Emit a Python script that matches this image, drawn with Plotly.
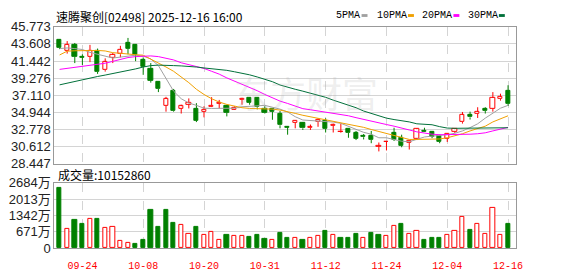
import plotly.graph_objects as go

# ---------------- data ----------------
dates = ["09-19", "09-22", "09-23", "09-24", "09-25", "09-26", "09-29", "09-30", "10-02", "10-03",
         "10-06", "10-08", "10-09", "10-10", "10-13", "10-14", "10-15", "10-16", "10-17", "10-20",
         "10-21", "10-22", "10-23", "10-24", "10-27", "10-28", "10-30", "10-31", "11-03", "11-04",
         "11-05", "11-06", "11-07", "11-10", "11-11", "11-12", "11-13", "11-14", "11-17", "11-18",
         "11-19", "11-20", "11-21", "11-24", "11-25", "11-26", "11-27", "11-28", "12-01", "12-02",
         "12-03", "12-04", "12-05", "12-08", "12-09", "12-10", "12-11", "12-12", "12-15", "12-16"]

opens = [44.09, 42.69, 43.49, 41.97, 41.97, 42.78, 40.29, 41.90, 42.30, 43.70,
         43.49, 41.58, 40.50, 38.78, 35.79, 37.70, 35.43, 35.94, 35.43, 35.02,
         35.66, 36.03, 35.79, 35.31, 36.51, 36.78, 36.78, 35.43, 35.43, 34.78,
         33.06, 33.63, 33.58, 32.94, 33.70, 33.90, 33.22, 32.40, 32.79, 32.31,
         31.90, 31.98, 30.58, 31.19, 32.31, 31.71, 31.11, 31.59, 32.62, 32.50,
         31.90, 31.59, 32.50, 33.70, 34.59, 34.78, 35.38, 35.43, 36.62, 37.70]
highs = [44.21, 43.97, 43.73, 42.30, 43.49, 43.02, 41.78, 42.45, 43.37, 44.37,
         43.58, 41.90, 41.18, 38.80, 36.90, 37.90, 35.90, 36.70, 36.10, 35.70,
         36.86, 36.51, 35.90, 35.70, 36.78, 36.80, 36.85, 35.70, 35.50, 35.10,
         33.08, 33.95, 33.70, 33.39, 34.18, 34.18, 33.51, 33.51, 32.85, 32.58,
         32.19, 32.58, 31.11, 31.25, 32.98, 32.10, 31.30, 32.91, 32.98, 32.55,
         32.10, 32.25, 32.90, 34.98, 35.02, 35.58, 35.58, 37.50, 37.30, 38.37]
lows = [42.95, 42.38, 41.18, 40.94, 41.30, 39.81, 40.10, 41.18, 41.90, 42.30,
        41.42, 39.69, 38.70, 37.50, 35.02, 35.02, 34.78, 35.43, 33.70, 34.30,
        35.60, 35.43, 34.42, 35.25, 35.90, 35.90, 35.31, 34.78, 33.99, 32.91,
        32.10, 32.91, 32.70, 32.70, 33.10, 32.38, 32.38, 32.31, 31.71, 31.42,
        31.50, 31.02, 29.98, 30.10, 31.30, 30.51, 30.22, 31.42, 32.45, 31.66,
        31.02, 31.18, 32.31, 33.51, 34.02, 34.22, 34.78, 35.02, 36.42, 35.74]
closes = [43.10, 43.49, 41.97, 41.90, 42.78, 40.05, 41.30, 42.21, 42.89, 43.02,
          42.21, 40.70, 38.97, 37.90, 36.62, 35.10, 35.70, 36.10, 33.90, 35.31,
          35.82, 36.18, 34.90, 35.55, 36.70, 36.18, 35.58, 34.90, 35.02, 33.30,
          33.03, 33.90, 32.91, 33.10, 34.02, 32.82, 33.39, 32.47, 32.31, 31.59,
          31.78, 31.42, 30.70, 31.23, 31.50, 30.70, 31.26, 32.79, 32.50, 31.83,
          31.18, 32.19, 32.79, 34.59, 34.30, 35.02, 35.10, 36.78, 36.90, 35.98]

ma5 = [43.02, 43.10, 43.02, 42.90, 42.54, 42.30, 42.00, 41.82, 41.94, 42.06,
       42.18, 42.06, 41.70, 40.86, 39.30, 37.62, 36.66, 36.12, 35.82, 35.46,
       35.43, 35.43, 35.43, 35.46, 35.64, 35.70, 35.76, 35.82, 35.58, 35.34,
       34.98, 34.38, 33.96, 33.90, 33.87, 33.78, 33.70, 33.54, 33.18, 32.76,
       32.40, 32.16, 31.71, 31.71, 31.50, 31.27, 31.21, 31.56, 31.81, 31.92,
       31.98, 32.10, 32.28, 32.58, 33.00, 33.48, 34.20, 34.86, 35.46, 35.82]
ma10 = [42.21, 42.69, 42.74, 42.78, 42.78, 42.78, 42.72, 42.50, 42.42, 42.30,
        42.24, 42.18, 41.70, 41.22, 40.68, 40.14, 39.42, 38.70, 37.86, 37.20,
        36.66, 36.24, 35.94, 35.70, 35.52, 35.43, 35.43, 35.40, 35.34, 35.22,
        35.04, 34.80, 34.56, 34.38, 34.20, 34.02, 33.84, 33.66, 33.48, 33.24,
        33.03, 32.76, 32.50, 32.28, 32.04, 31.74, 31.50, 31.50, 31.50, 31.50,
        31.56, 31.71, 31.92, 32.22, 32.58, 32.88, 33.18, 33.72, 34.14, 34.50]
ma20 = [40.38, 40.50, 40.62, 40.74, 40.86, 40.98, 41.16, 41.40, 41.64, 41.88,
        42.00, 42.06, 42.09, 42.00, 41.82, 41.58, 41.22, 40.98, 40.77, 40.50,
        40.14, 39.78, 39.30, 38.90, 38.52, 38.10, 37.68, 37.20, 36.78, 36.36,
        36.06, 35.70, 35.40, 35.26, 35.10, 34.98, 34.83, 34.68, 34.50, 34.26,
        34.02, 33.78, 33.60, 33.39, 33.18, 32.98, 32.70, 32.46, 32.28, 32.16,
        32.10, 32.10, 32.10, 32.10, 32.16, 32.22, 32.34, 32.58, 32.82, 33.03]
ma30 = [38.42, 38.64, 38.88, 39.09, 39.30, 39.48, 39.66, 39.84, 40.02, 40.20,
        40.44, 40.68, 40.86, 40.92, 40.92, 40.86, 40.82, 40.77, 40.68, 40.56,
        40.46, 40.38, 40.26, 40.08, 39.90, 39.69, 39.42, 39.12, 38.82, 38.40,
        38.10, 37.86, 37.62, 37.38, 37.14, 36.84, 36.48, 36.18, 35.88, 35.52,
        35.10, 34.80, 34.44, 34.20, 34.02, 33.90, 33.72, 33.48, 33.42, 33.36,
        33.12, 32.94, 32.91, 32.91, 32.91, 32.91, 32.91, 32.91, 32.94, 32.98]

# volume in 万 (10k shares)
volume = [2490, 805, 1167, 1011, 1206, 1206, 817, 856, 300, 222,
          156, 350, 1556, 856, 1556, 1050, 972, 583, 856, 545,
          650, 350, 545, 506, 506, 467, 545, 389, 338, 622,
          428, 428, 350, 428, 506, 700, 545, 428, 428, 583,
          428, 622, 545, 506, 934, 1011, 583, 700, 350, 428,
          428, 545, 700, 1284, 739, 1011, 583, 1673, 545, 1015]
first_volume_up = False
last_volume_text = "10152860"

price_ticks = [28.447, 30.612, 32.778, 34.944, 37.110, 39.276, 41.442, 43.608, 45.773]
price_tick_text = ["28.447", "30.612", "32.778", "34.944", "37.110", "39.276", "41.442", "43.608", "45.773"]
vol_ticks = [0, 671, 1342, 2013, 2684]
vol_tick_text = ["0", "671万", "1342万", "2013万", "2684万"]
date_tick_labels = ["09-24", "10-08", "10-20", "10-31", "11-12", "11-24", "12-04", "12-16"]

title_text = "速腾聚创[02498] 2025-12-16 16:00"
ma_names = ["5PMA", "10PMA", "20PMA", "30PMA"]

# ---------------- styles ----------------
RED = "#ff0000"
GREEN = "#008000"
MA_COLORS = ["#a0a0a0", "#f0a000", "#ff00ff", "#00703a"]
W, H = 578, 276
L, R = 55, 522
P_TOP, P_BOT = 21, 165.5
V_TOP, V_BOT = 186, 255


def px_x(p):
    return p / W


def px_y(p):
    return 1 - p / H


n = len(dates)
xs = list(range(n))
tick_pos = [dates.index(d) for d in date_tick_labels]

fig = go.Figure()

# wicks
for up, col in ((True, RED), (False, GREEN)):
    wx, wy = [], []
    for i in xs:
        is_up = closes[i] >= opens[i]
        if is_up != up:
            continue
        top = max(opens[i], closes[i])
        bot = min(opens[i], closes[i])
        wx += [i, i, None, i, i, None]
        wy += [highs[i], top, None, bot, lows[i], None]
    fig.add_trace(go.Scatter(x=wx, y=wy, mode="lines", line=dict(color=col, width=1),
                             hoverinfo="skip", xaxis="x", yaxis="y"))

# bodies
for up, col, fill in ((True, RED, "white"), (False, GREEN, GREEN)):
    bx, bb, bh = [], [], []
    for i in xs:
        is_up = closes[i] >= opens[i]
        if is_up != up:
            continue
        bx.append(i)
        bb.append(min(opens[i], closes[i]))
        bh.append(max(abs(closes[i] - opens[i]), 0.02))
    fig.add_trace(go.Bar(x=bx, y=bh, base=bb, width=0.56,
                         marker=dict(color=fill, line=dict(color=col, width=1)),
                         xaxis="x", yaxis="y"))

# moving averages
for vals, col in zip([ma5, ma10, ma20, ma30], MA_COLORS):
    fig.add_trace(go.Scatter(x=xs, y=vals, mode="lines", line=dict(color=col, width=1),
                             xaxis="x", yaxis="y"))

# volume
vol_up = [first_volume_up] + [closes[i] >= closes[i - 1] for i in range(1, n)]
for up, col, fill in ((True, RED, "white"), (False, GREEN, GREEN)):
    vx = [i for i in xs if vol_up[i] == up]
    vy = [volume[i] for i in vx]
    fig.add_trace(go.Bar(x=vx, y=vy, width=0.56,
                         marker=dict(color=fill, line=dict(color=col, width=1)),
                         xaxis="x2", yaxis="y2"))

xrange = [-0.69, 60.0]
xdom = [px_x(L), px_x(R)]
grid_col = "#d4d4d4"
border_col = "#999999"

common_x = dict(range=xrange, domain=xdom, tickmode="array", tickvals=tick_pos,
                showgrid=True, gridcolor=grid_col, griddash="dash", gridwidth=1,
                showline=True, mirror=True, linecolor=border_col, linewidth=1,
                zeroline=False, ticks="", fixedrange=True)

fig.update_layout(
    width=W, height=H, margin=dict(l=0, r=0, t=0, b=0),
    paper_bgcolor="white", plot_bgcolor="white",
    showlegend=False, barmode="overlay", bargap=0,
    xaxis=dict(**common_x, anchor="y", showticklabels=False),
    xaxis2=dict(**common_x, anchor="y2", matches="x", ticktext=date_tick_labels,
                showticklabels=True, ticklabelstandoff=8,
                tickfont=dict(family="Liberation Mono", size=10, color=RED)),
    yaxis=dict(domain=[px_y(P_BOT), px_y(P_TOP)], range=[price_ticks[0], price_ticks[-1]],
               tickmode="array", tickvals=price_ticks, ticktext=price_tick_text,
               showgrid=True, gridcolor=grid_col, gridwidth=1, zeroline=False,
               showline=True, mirror=True, linecolor=border_col, linewidth=1, ticks="",
               tickfont=dict(family="Liberation Sans", size=13, color="#222222"),
               anchor="x", fixedrange=True),
    yaxis2=dict(domain=[px_y(V_BOT), px_y(V_TOP)], range=[0, vol_ticks[-1]],
                tickmode="array", tickvals=vol_ticks, ticktext=vol_tick_text,
                showgrid=True, gridcolor=grid_col, gridwidth=1, zeroline=False,
                showline=True, mirror=True, linecolor=border_col, linewidth=1, ticks="",
                tickfont=dict(family="Liberation Sans, Noto Sans CJK SC", size=13, color="#222222"),
                anchor="x2", fixedrange=True),
)

annotations = [
    dict(text="东方财富", x=px_x(310), y=px_y(90), xref="paper", yref="paper",
         xanchor="center", yanchor="middle", showarrow=False,
         font=dict(family="Noto Sans CJK SC", size=36, color="rgba(170,170,170,0.2)")),
    dict(text=title_text, x=px_x(55), y=px_y(10), xref="paper", yref="paper",
         xanchor="left", yanchor="middle", showarrow=False,
         font=dict(family="Noto Sans CJK SC", size=12, color="#000000")),
    dict(text="成交量:" + last_volume_text, x=px_x(57), y=px_y(177), xref="paper", yref="paper",
         xanchor="left", yanchor="middle", showarrow=False,
         font=dict(family="Noto Sans CJK SC", size=12, color="#000000")),
]

legend_text_x = [338, 380, 425, 472]
legend_box_x = [366, 413, 459, 505]
shapes = []
for name, col, tx, bx in zip(ma_names, MA_COLORS, legend_text_x, legend_box_x):
    annotations.append(dict(text=name, x=px_x(tx), y=px_y(9), xref="paper", yref="paper",
                            xanchor="left", yanchor="middle", showarrow=False,
                            font=dict(family="Liberation Mono", size=10, color="#000000")))
    shapes.append(dict(type="rect", xref="paper", yref="paper",
                       x0=px_x(bx), x1=px_x(bx + 6), y0=px_y(10.5), y1=px_y(7.5),
                       fillcolor=col, line=dict(width=0)))

fig.update_layout(annotations=annotations, shapes=shapes)

fig.write_html("out.html")
